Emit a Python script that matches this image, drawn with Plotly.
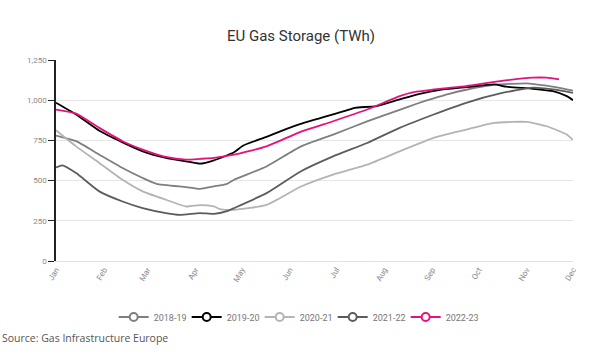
import plotly.graph_objects as go

# ---- data (TWh) ----
series_names = ["2018-19", "2019-20", "2020-21", "2021-22", "2022-23"]
series_colors = ["#7f7f7f", "#000000", "#b4b4b4", "#5c5c5c", "#e5127d"]

dates_1819 = ["2022-01-01", "2022-01-14", "2022-01-29", "2022-02-13", "2022-02-26", "2022-03-07",
              "2022-03-26", "2022-04-04", "2022-04-13", "2022-04-21", "2022-04-26", "2022-05-17",
              "2022-06-08", "2022-06-29", "2022-07-21", "2022-08-11", "2022-08-22", "2022-09-02",
              "2022-09-12", "2022-09-23", "2022-10-11", "2022-11-01", "2022-11-14", "2022-11-27",
              "2022-12-01"]
vals_1819 = [780, 745, 661, 578, 516, 480, 460, 449, 464, 478, 505, 588,
             711, 786, 868, 940, 978, 1012, 1040, 1065, 1095, 1105, 1090, 1068,
             1060]

dates_1920 = ["2022-01-01", "2022-01-14", "2022-01-29", "2022-02-13", "2022-02-26", "2022-03-13",
              "2022-03-26", "2022-04-04", "2022-04-13", "2022-04-26", "2022-05-02", "2022-05-17",
              "2022-05-30", "2022-06-08", "2022-07-06", "2022-07-13", "2022-07-27", "2022-08-11",
              "2022-08-24", "2022-09-08", "2022-09-23", "2022-10-11", "2022-10-19", "2022-11-05",
              "2022-11-18", "2022-11-27", "2022-12-01"]
vals_1920 = [984, 911, 810, 738, 682, 641, 620, 605, 626, 676, 718, 772,
             822, 853, 932, 953, 963, 1005, 1040, 1067, 1081, 1098, 1084, 1071,
             1056, 1025, 1000]

dates_2021 = ["2022-01-01", "2022-01-14", "2022-01-29", "2022-02-13", "2022-02-26", "2022-03-13",
              "2022-03-26", "2022-04-04", "2022-04-13", "2022-04-17", "2022-04-26", "2022-05-17",
              "2022-06-08", "2022-06-29", "2022-07-21", "2022-08-11", "2022-09-02", "2022-09-23",
              "2022-10-11", "2022-11-01", "2022-11-14", "2022-11-27", "2022-12-01"]
vals_2021 = [813, 713, 610, 505, 433, 381, 339, 348, 339, 323, 318, 349,
             462, 537, 599, 682, 766, 817, 859, 865, 838, 786, 752]

dates_2122 = ["2022-01-01", "2022-01-05", "2022-01-14", "2022-01-29", "2022-02-13", "2022-02-26",
              "2022-03-13", "2022-03-22", "2022-04-04", "2022-04-13", "2022-04-21", "2022-04-26",
              "2022-05-17", "2022-06-08", "2022-06-29", "2022-07-21", "2022-08-11", "2022-09-02",
              "2022-09-23", "2022-10-15", "2022-11-05", "2022-11-18", "2022-12-01"]
vals_2122 = [582, 595, 547, 433, 370, 329, 298, 287, 298, 293, 308, 329,
             422, 557, 651, 734, 828, 911, 984, 1042, 1078, 1067, 1046]

dates_2223 = ["2022-01-01", "2022-01-14", "2022-01-29", "2022-02-13", "2022-02-26", "2022-03-13",
              "2022-03-26", "2022-04-04", "2022-04-13", "2022-04-26", "2022-05-17", "2022-06-08",
              "2022-06-29", "2022-07-21", "2022-08-11", "2022-08-20", "2022-09-06", "2022-09-23",
              "2022-10-15", "2022-11-05", "2022-11-14", "2022-11-22"]
vals_2223 = [942, 917, 828, 745, 693, 647, 630, 635, 641, 661, 713, 803,
             869, 942, 1025, 1050, 1071, 1088, 1119, 1140, 1140, 1129]

series_dates = [dates_1819, dates_1920, dates_2021, dates_2122, dates_2223]
series_vals = [vals_1819, vals_1920, vals_2021, vals_2122, vals_2223]

month_ticks = ["2022-01-01", "2022-02-01", "2022-03-01", "2022-04-01", "2022-05-01", "2022-06-01",
               "2022-07-01", "2022-08-01", "2022-09-01", "2022-10-01", "2022-11-01", "2022-12-01"]
month_labels = ["Jan", "Feb", "Mar", "Apr", "May", "Jun", "Jul", "Aug", "Sep", "Oct", "Nov", "Dec"]

y_ticks = [0, 250, 500, 750, 1000, 1250]
y_labels = ["0", "250", "500", "750", "1,000", "1,250"]

fig = go.Figure()
for name, color, xs, ys in zip(series_names, series_colors, series_dates, series_vals):
    fig.add_trace(go.Scatter(x=xs, y=ys, mode="lines", name=name, showlegend=False,
                             line=dict(color=color, width=1.8, shape="spline", smoothing=0.5),
                             hoverinfo="x+y+name"))
# legend entries
for name, color in zip(series_names, series_colors):
    fig.add_trace(go.Scatter(x=[None], y=[None], mode="lines+markers", name=name,
                             line=dict(color=color, width=2),
                             marker=dict(symbol="circle", size=8, color="white",
                                         line=dict(color=color, width=2))))

fig.update_layout(
    width=602, height=357,
    margin=dict(l=56, r=29, t=60, b=96, autoexpand=False),
    paper_bgcolor="white", plot_bgcolor="white",
    font=dict(family="Roboto, sans-serif", color="#777"),
    title=dict(text="EU Gas Storage (TWh)", x=0.5, xanchor="center", xref="container",
               y=1 - 36 / 357, yanchor="middle", yref="container",
               font=dict(family="Roboto, sans-serif", size=15, color="#333")),
    xaxis=dict(type="date", range=["2022-01-01", "2022-12-01"],
               tickvals=month_ticks, ticktext=month_labels, tickangle=-60,
               tickfont=dict(size=8, color="#888"), showgrid=False, automargin=False,
               showline=True, linecolor="#e2e2e2", linewidth=1, ticks="", zeroline=False),
    yaxis=dict(range=[0, 1250], tickvals=y_ticks, ticktext=y_labels, automargin=False,
               tickfont=dict(size=8, color="#888"), showgrid=True, gridcolor="#e6e6e6",
               gridwidth=1, showline=True, linecolor="#222", linewidth=1.5,
               ticks="outside", ticklen=6, tickcolor="#222", zeroline=False),
    legend=dict(orientation="h", xref="container", x=0.492, xanchor="center",
                yref="container", y=1 - 317 / 357, yanchor="middle",
                font=dict(size=9, color="#777"), itemwidth=30,
                entrywidth=28, entrywidthmode="pixels"),
    showlegend=True,
    annotations=[dict(text="Source: Gas Infrastructure Europe", xref="paper", yref="paper",
                      x=-56 / 517, xanchor="left", y=(261 - 338) / 201, yanchor="middle",
                      showarrow=False,
                      font=dict(family="Open Sans, sans-serif", size=10.5, color="#555"))],
)

fig.write_html("out.html", config={"displayModeBar": False},
               post_script="document.body.style.margin='0';")
